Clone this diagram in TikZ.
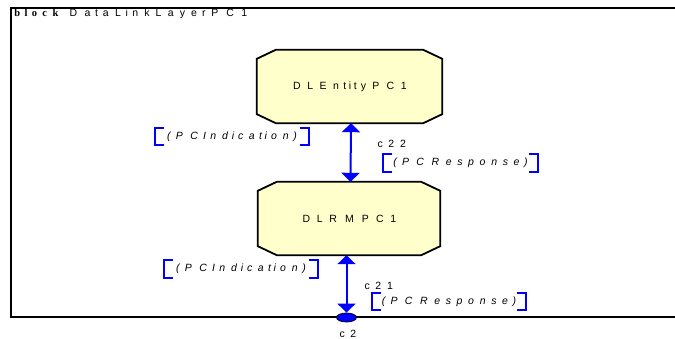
\documentclass[tikz,border=0pt]{standalone}
\usepackage{fontspec}
\setmainfont{Liberation Sans}
\newfontfamily\serifbold{Liberation Serif}
\usetikzlibrary{arrows.meta,shapes.geometric,backgrounds}

\definecolor{boxfill}{HTML}{FFFFCC}
\definecolor{sigblue}{HTML}{0000FF}

% wide tracking: every glyph sits centred in a box \spreadfactor times its width
\newcommand\spreadfactor{2.0}
\def\spreadstop{}
\newcommand\spreadtext[1]{\spreadloop#1\spreadstop}
\def\spreadloop#1{\ifx#1\spreadstop\else\makebox[\spreadfactor\width][c]{#1}\expandafter\spreadloop\fi}

% octagonal outline of a process block, drawn behind its node
\newcommand\chamferoutline[1]{%
  \begin{scope}[on background layer]
    \filldraw[blkline] ([xshift=19pt]#1.north west) -- ([xshift=-19pt]#1.north east)
      -- ([yshift=-9pt]#1.north east) -- ([yshift=9pt]#1.south east)
      -- ([xshift=-19pt]#1.south east) -- ([xshift=19pt]#1.south west)
      -- ([yshift=9pt]#1.south west) -- ([yshift=-9pt]#1.north west) -- cycle;
  \end{scope}}

% square brackets round a signal list
\newcommand\sigbrackets[1]{%
  \draw[brk] ([xshift=9pt]#1.north west) -- (#1.north west) -- (#1.south west) -- ([xshift=9pt]#1.south west);
  \draw[brk] ([xshift=-9pt]#1.north east) -- (#1.north east) -- (#1.south east) -- ([xshift=-9pt]#1.south east);}

\tikzset{
  txt/.style={inner sep=0pt, text=black, font=\fontsize{10.5}{12}\selectfont},
  blk/.style={txt, minimum width=185pt, minimum height=73pt},
  blkline/.style={draw=black, fill=boxfill, line width=1.8pt, line join=miter},
  sig/.style={txt, font=\fontsize{10.5}{12}\selectfont\itshape, minimum width=154pt, minimum height=17pt},
  brk/.style={draw=sigblue, line width=1.8pt},
  frameline/.style={draw=black, line width=2pt},
  conn/.style={draw=sigblue, line width=2pt,
    {Triangle[width=18pt,length=9pt]}-{Triangle[width=18pt,length=9pt]}},
  port/.style={ellipse, fill=sigblue, draw=black, line width=0.8pt,
    minimum width=20pt, minimum height=9pt, inner sep=0pt},
}

\begin{document}
\begin{tikzpicture}[x=1pt,y=-1pt]
  \useasboundingbox (0,0) rectangle (675,339);
  \clip (0,0) rectangle (675,339);

  % block frame, open to the right
  \draw[frameline] (700,8) -- (11,8) -- (11,317) -- (700,317);
  \node[txt, anchor=base west] (title) at (11,16.5)
    {{\serifbold\bfseries\renewcommand\spreadfactor{2.05}\spreadtext{block}}\hspace{4pt}{\renewcommand\spreadfactor{2.1}\spreadtext{DataLinkLayerPC1}}};

  % processes
  \node[blk] (ent) at (349.5,86.5) {\spreadtext{DLEntityPC1}};
  \chamferoutline{ent}
  \node[blk, minimum width=182pt] (rm) at (349,218.5) {\spreadtext{DLRMPC1}};
  \chamferoutline{rm}

  % gate on the frame
  \node[port] (c2port) at (346.5,317.5) {};
  \node[txt] (c2lbl) at (348,334) {\spreadtext{c2}};

  % channels
  \draw[conn] ([xshift=1.5pt]ent.south) -- ([xshift=1.5pt]rm.north);
  \draw[conn] ([xshift=-2.5pt]rm.south) -- (c2port.north);

  % channel c22
  \node[sig] (ind1) at (232,136.5) {\spreadtext{(PCIndication)}};
  \sigbrackets{ind1}
  \node[txt] (c22) at (392,143.5) {\spreadtext{c22}};
  \node[sig] (res1) at (460.5,163) {\spreadtext{(PCResponse)}};
  \sigbrackets{res1}

  % channel c21
  \node[sig] (ind2) at (241,269) {\spreadtext{(PCIndication)}};
  \sigbrackets{ind2}
  \node[txt] (c21) at (379,286) {\spreadtext{c21}};
  \node[sig] (res2) at (449,301.5) {\spreadtext{(PCResponse)}};
  \sigbrackets{res2}
\end{tikzpicture}
\end{document}
